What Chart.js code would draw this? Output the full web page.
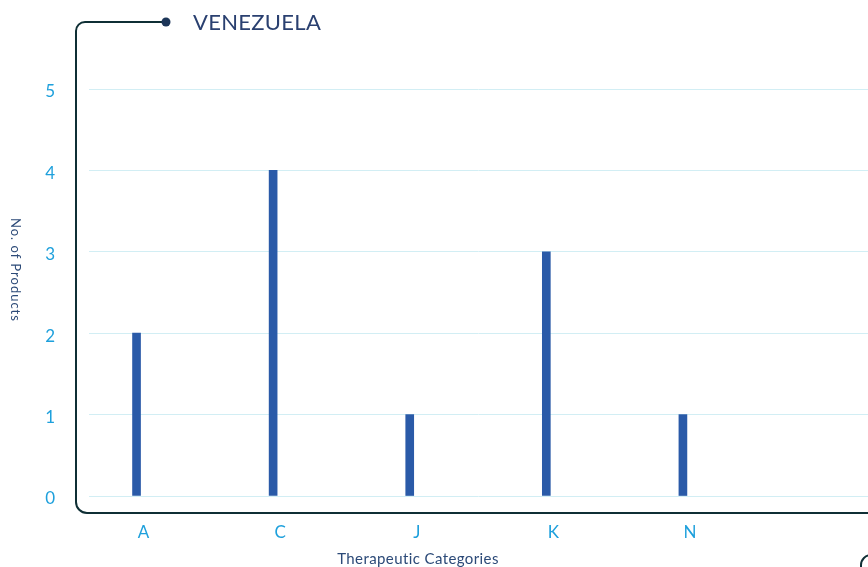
<!DOCTYPE html>
<html>
<head>
<meta charset="utf-8">
<script src="https://cdn.jsdelivr.net/npm/chart.js@4.4.1/dist/chart.umd.min.js"></script>
<style>
  html, body { margin: 0; padding: 0; background: #fff; overflow: hidden; }
  #wrap { position: relative; width: 868px; height: 567px; font-family: Lato, "Open Sans", sans-serif; }
  #chart { position: absolute; left: 0; top: 0; }
  #title { position: absolute; left: 193px; top: 8px; font-size: 22px; color: #2a4070; letter-spacing: 0.3px; }
  #yTitle { position: absolute; left: 8px; top: 218px; font-size: 13px; color: #2c4a78; writing-mode: vertical-rl; letter-spacing: 1px; }
  #xTitle { position: absolute; left: 0; width: 836px; top: 549px; text-align: center; font-size: 15px; color: #2c4a78; letter-spacing: 0.4px; }
</style>
</head>
<body>
<div id="wrap">
  <canvas id="chart" width="868" height="567"></canvas>
  <div id="title">VENEZUELA</div>
  <div id="yTitle">No. of Products</div>
  <div id="xTitle">Therapeutic Categories</div>
</div>
<script>
// Chart data
const categories = ['A', 'C', 'J', 'K', 'N'];
const productCounts = [2, 4, 1, 3, 1];
const yTicks = [0, 1, 2, 3, 4, 5];

// Decorative frame around the plot
const framePlugin = {
    id: 'frame',
    afterDraw(chart) {
        const ctx = chart.ctx;
        ctx.save();
        ctx.strokeStyle = '#0f2f35';
        ctx.lineWidth = 2;
        ctx.beginPath();
        ctx.moveTo(164, 22);
        ctx.lineTo(85, 22);
        ctx.arcTo(76, 22, 76, 31, 9);
        ctx.lineTo(76, 502);
        ctx.arcTo(76, 513, 87, 513, 11);
        ctx.lineTo(870, 513);
        ctx.stroke();
        // start of the next panel's frame
        ctx.beginPath();
        ctx.moveTo(861, 570);
        ctx.lineTo(861, 565);
        ctx.arcTo(861, 555, 871, 555, 10);
        ctx.stroke();
        ctx.fillStyle = '#1c3558';
        ctx.beginPath();
        ctx.arc(166, 22, 4.5, 0, Math.PI * 2);
        ctx.fill();
        ctx.restore();
    }
};

const ctx = document.getElementById('chart').getContext('2d');

new Chart(ctx, {
    type: 'bar',
    data: {
        datasets: [{
            data: categories.map((c, i) => ({ x: i, y: productCounts[i] })),
            backgroundColor: '#2a5aa8',
            barThickness: 8,
        }]
    },
    plugins: [framePlugin],
    options: {
        responsive: false,
        animation: false,
        layout: { padding: { top: 89, right: 0, bottom: 0, left: 0 } },
        plugins: {
            legend: { display: false },
            tooltip: { enabled: false },
        },
        scales: {
            x: {
                type: 'linear',
                min: -0.348,
                max: 5.355,
                offset: false,
                grid: { display: false, drawTicks: false, offset: false },
                border: { display: false },
                afterBuildTicks: scale => {
                    scale.ticks = categories.map((c, i) => ({ value: i }));
                },
                afterFit: scale => { scale.height = 71; },
                ticks: {
                    callback: v => categories[v],
                    labelOffset: 7,
                    padding: 26,
                    maxRotation: 0,
                    autoSkip: false,
                    color: '#1ea0dc',
                    font: { family: 'Lato', size: 17 },
                }
            },
            y: {
                min: 0,
                max: 5,
                afterBuildTicks: scale => {
                    scale.ticks = yTicks.map(v => ({ value: v }));
                },
                afterFit: scale => { scale.width = 89; },
                grid: { color: '#d2eef4', lineWidth: 1, drawTicks: false },
                border: { display: false },
                ticks: {
                    padding: 34,
                    labelOffset: 3,
                    color: '#1ea0dc',
                    font: { family: 'Lato', size: 17 },
                }
            }
        }
    }
});
</script>
</body>
</html>
